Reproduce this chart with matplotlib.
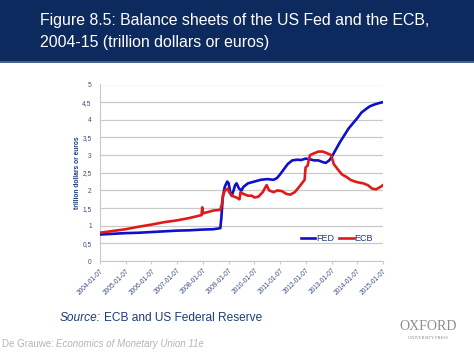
import numpy as np
import pandas as pd
import matplotlib
matplotlib.use("Agg")
import matplotlib.pyplot as plt
import matplotlib.dates as mdates
from matplotlib.patches import Rectangle
from matplotlib.transforms import offset_copy

plt.rcParams["font.family"] = ["Liberation Sans", "DejaVu Sans"]

# --- data (trillion dollars / euros) ---
fed_dates = ["2004-01-07", "2004-07-07", "2005-01-05", "2005-07-06", "2006-01-04", "2006-07-05",
             "2007-01-03", "2007-07-04", "2008-01-02", "2008-06-04", "2008-09-10", "2008-09-24",
             "2008-10-15", "2008-11-12", "2008-12-17", "2009-01-07", "2009-01-28", "2009-02-18",
             "2009-03-18", "2009-04-08", "2009-04-29", "2009-06-03", "2009-07-08", "2009-08-05",
             "2009-10-07", "2010-01-06", "2010-04-07", "2010-07-07", "2010-10-06", "2010-11-24",
             "2011-01-05", "2011-03-02", "2011-04-27", "2011-06-29", "2011-09-07", "2011-11-02",
             "2012-01-04", "2012-03-07", "2012-05-02", "2012-07-04", "2012-09-05", "2012-10-17",
             "2012-12-05", "2013-01-09", "2013-03-06", "2013-05-01", "2013-07-03", "2013-09-04",
             "2013-11-06", "2014-01-08", "2014-03-05", "2014-05-07", "2014-07-02", "2014-09-03",
             "2014-11-05", "2015-01-07"]
fed_vals = [0.75, 0.77, 0.79, 0.80, 0.82, 0.84,
            0.86, 0.87, 0.89, 0.90, 0.93, 1.20,
            1.80, 2.10, 2.25, 2.20, 1.95, 1.85,
            2.00, 2.15, 2.20, 2.05, 2.00, 2.10,
            2.20, 2.25, 2.30, 2.32, 2.30, 2.35,
            2.45, 2.60, 2.75, 2.85, 2.87, 2.86,
            2.90, 2.88, 2.85, 2.85, 2.80, 2.78,
            2.85, 2.95, 3.15, 3.35, 3.55, 3.75,
            3.90, 4.05, 4.20, 4.30, 4.38, 4.43,
            4.47, 4.50]

ecb_dates = ["2004-01-07", "2004-07-07", "2005-01-05", "2005-07-06", "2006-01-04", "2006-07-05",
             "2007-01-03", "2007-07-04", "2007-11-07", "2007-12-19", "2007-12-28", "2008-01-09",
             "2008-03-05", "2008-06-04", "2008-09-10", "2008-10-01", "2008-10-22", "2008-11-19",
             "2008-12-24", "2009-01-14", "2009-02-18", "2009-04-01", "2009-05-13", "2009-06-10",
             "2009-06-24", "2009-08-05", "2009-10-07", "2009-12-02", "2010-01-06", "2010-03-03",
             "2010-05-05", "2010-06-30", "2010-08-04", "2010-10-06", "2010-12-01", "2011-02-02",
             "2011-04-06", "2011-06-01", "2011-08-03", "2011-10-05", "2011-12-21", "2012-01-04",
             "2012-02-01", "2012-03-07", "2012-05-02", "2012-07-04", "2012-09-05", "2012-11-07",
             "2013-01-02", "2013-02-06", "2013-04-03", "2013-06-05", "2013-08-07", "2013-10-02",
             "2013-12-04", "2014-02-05", "2014-04-02", "2014-06-04", "2014-08-06", "2014-10-01",
             "2014-12-03", "2015-01-07"]
ecb_vals = [0.80, 0.85, 0.90, 0.97, 1.03, 1.10,
            1.15, 1.22, 1.28, 1.30, 1.52, 1.35,
            1.38, 1.43, 1.45, 1.60, 1.90, 2.00,
            2.05, 1.95, 1.85, 1.82, 1.78, 1.75,
            1.95, 1.90, 1.85, 1.85, 1.80, 1.82,
            1.95, 2.15, 2.00, 1.95, 2.00, 1.98,
            1.90, 1.88, 1.95, 2.10, 2.30, 2.65,
            2.70, 3.00, 3.05, 3.10, 3.10, 3.05,
            3.00, 2.75, 2.60, 2.45, 2.38, 2.30,
            2.25, 2.22, 2.20, 2.15, 2.05, 2.03,
            2.10, 2.15]

tick_labels = ["2004-01-07", "2005-01-07", "2006-01-07", "2007-01-07", "2008-01-07", "2009-01-07",
               "2010-01-07", "2011-01-07", "2012-01-07", "2013-01-07", "2014-01-07", "2015-01-07"]
y_ticks = [0, 0.5, 1, 1.5, 2, 2.5, 3, 3.5, 4, 4.5, 5]

navy = "#0c2a5e"
text_navy = "#1d3b78"

fig = plt.figure(figsize=(4.74, 3.55), dpi=100)
fig.patch.set_facecolor("white")

# header band
fig.patches.append(Rectangle((0, 1 - 61 / 355), 1, 61 / 355, transform=fig.transFigure,
                             facecolor=navy, edgecolor="none", zorder=0))
fig.patches.append(Rectangle((0, 1 - 63 / 355), 1, 2 / 355, transform=fig.transFigure,
                             facecolor="#4a5f8a", edgecolor="none", zorder=0))
fig.text(40 / 474, 1 - 20 / 355, "Figure 8.5: Balance sheets of the US Fed and the ECB,",
         color="white", fontsize=11.4, va="center", ha="left")
fig.text(40 / 474, 1 - 43 / 355, "2004-15 (trillion dollars or euros)",
         color="white", fontsize=11.4, va="center", ha="left")

ax = fig.add_axes([100 / 474, 1 - 261 / 355, 283 / 474, 176.5 / 355])

fd = pd.to_datetime(fed_dates)
ed = pd.to_datetime(ecb_dates)
ax.plot(fd, fed_vals, color="#1010c8", lw=1.9, label="FED", zorder=3)
ax.plot(ed, ecb_vals, color="#e01a1a", lw=1.9, label="ECB", zorder=3)

ax.set_ylim(0, 5)
ax.set_yticks(y_ticks)
ax.set_yticklabels([f"{v:g}".replace(".", ",") for v in y_ticks])
tdates = pd.to_datetime(tick_labels)
ax.set_xlim(tdates[0], tdates[-1])
ax.set_xticks(tdates)
ax.set_xticklabels(tick_labels, rotation=45, ha="right", rotation_mode="anchor")
ax.grid(axis="y", color="#c9c9c9", lw=0.9)
ax.set_axisbelow(True)
for s in ["top", "right"]:
    ax.spines[s].set_visible(False)
ax.spines["left"].set_color("#c9c9c9")
ax.spines["bottom"].set_color("#c9c9c9")
ax.tick_params(axis="y", length=0, labelsize=4.8, labelcolor="#3a4f80", pad=6)
ax.tick_params(axis="x", length=2.5, color="#c9c9c9", labelsize=4.8, labelcolor="#3a4f80", pad=2)
ax.set_ylabel("trillion dollars or euros", fontsize=4.8, fontweight="bold", color=text_navy, labelpad=1)

leg = ax.legend(loc="center left", bbox_to_anchor=(0.68, 0.125), ncol=2, frameon=False,
                fontsize=6.5, handlelength=1.6, handletextpad=0.1, columnspacing=0.6)
for t in leg.get_texts():
    t.set_color(text_navy)

# source + footer: place second part right after the first
fig.canvas.draw()
r = fig.canvas.get_renderer()
t1 = fig.text(60 / 474, 1 - 318 / 355, "Source:", fontsize=8.6, style="italic", color=text_navy,
              va="center", ha="left")
w = t1.get_window_extent(r).width
fig.text(60 / 474, 1 - 318 / 355, "ECB and US Federal Reserve", fontsize=8.6, color=text_navy,
         va="center", ha="left",
         transform=offset_copy(fig.transFigure, fig=fig, x=w + 2.5, units="dots"))
t2 = fig.text(2 / 474, 1 - 344 / 355, "De Grauwe: ", fontsize=7, color="#b5b5b5", va="center", ha="left")
w2 = t2.get_window_extent(r).width
fig.text(2 / 474, 1 - 344 / 355, "Economics of Monetary Union 11e", fontsize=7, style="italic",
         color="#b5b5b5", va="center", ha="left",
         transform=offset_copy(fig.transFigure, fig=fig, x=w2, units="dots"))
fig.text(428 / 474, 1 - 326 / 355, "OXFORD", fontsize=10, family="Liberation Serif", color="#8c8c8c",
         va="center", ha="center")
fig.text(428 / 474, 1 - 338 / 355, "UNIVERSITY PRESS", fontsize=3.2, family="Liberation Serif",
         color="#8c8c8c", va="center", ha="center")

fig.savefig("out.png", dpi=100)
